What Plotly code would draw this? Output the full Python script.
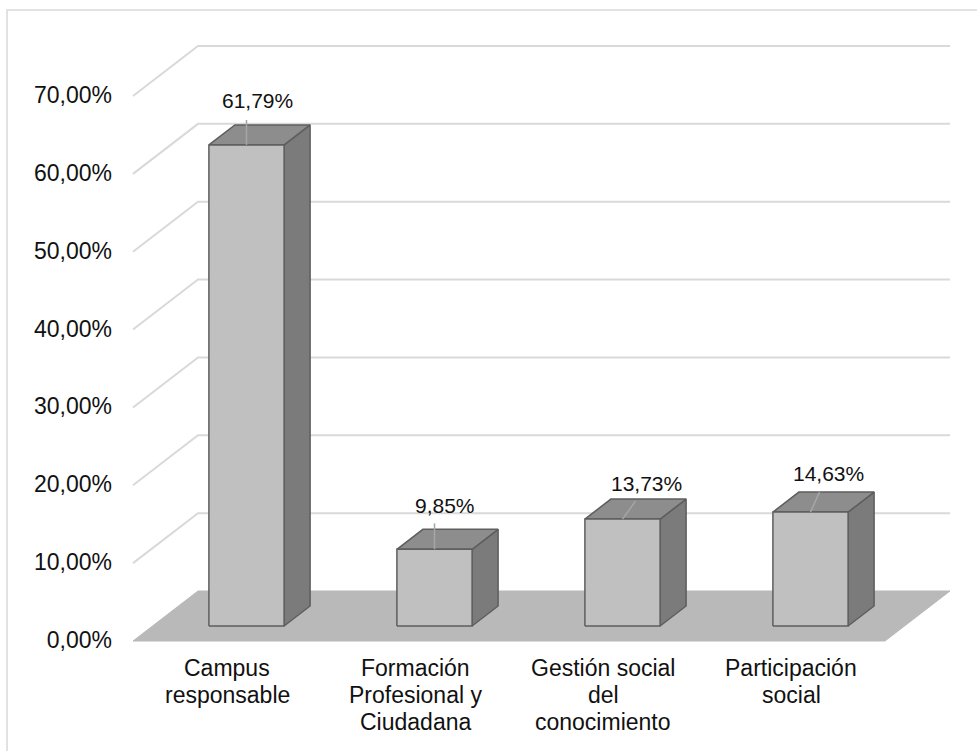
import plotly.graph_objects as go

# ---- data ----
categories = ["Campus<br>responsable", "Formación<br>Profesional y<br>Ciudadana",
              "Gestión social<br>del<br>conocimiento", "Participación<br>social"]
values = [61.79, 9.85, 13.73, 14.63]
y_ticks = [0, 10, 20, 30, 40, 50, 60, 70]
y_tick_labels = ["0,00%", "10,00%", "20,00%", "30,00%", "40,00%", "50,00%", "60,00%", "70,00%"]
value_labels = ["61,79%", "9,85%", "13,73%", "14,63%"]

# ---- style / geometry ----
W_FIG, H_FIG = 977, 751
PX_X = 188.0          # px per category
PX_Y = 7.786          # px per percent
DEPTH_PX_X, DEPTH_PX_Y = 65.0, 50.0
DX = DEPTH_PX_X / PX_X
DY = DEPTH_PX_Y / PX_Y
BAR_W = 0.4
D0, D1 = 0.3, 0.7
ML, MR, MT, MB = 114, 9, 38, 102
FRONT_LEFT_PX = 133
FLOOR_FRONT_PX = 641
# label centre offsets and leader-line end offsets, in px (right, down)
label_offsets = [(11, -44), (10, -44), (24, -36), (18, -39)]
leader_offsets = [(0, -25), (0, -26), (13, -18), (9, -20)]

PW = W_FIG - ML - MR
PH = H_FIG - MT - MB
xmin = -0.5 - (FRONT_LEFT_PX - ML) / PX_X
xmax = xmin + PW / PX_X
ymin = -((H_FIG - MB) - FLOOR_FRONT_PX) / PX_Y
ymax = ymin + PH / PX_Y

FRONT = "#c0c0c0"
SIDE = "#7b7b7b"
TOP = "#8d8d8d"
EDGE = "#5e5e5e"
FLOOR = "#b9b9b9"
GRID = "#d9d9d9"
LEADER = "#a6a6a6"
FONT = "Liberation Sans, Arial, sans-serif"
TXT = "#111111"


def P(x, v, d):
    return x + d * DX, v + d * DY


def poly(pts, fill, line_color, lw):
    xs = [p[0] for p in pts] + [pts[0][0]]
    ys = [p[1] for p in pts] + [pts[0][1]]
    return go.Scatter(x=xs, y=ys, mode="lines", fill="toself", fillcolor=fill,
                      line=dict(color=line_color, width=lw), hoverinfo="skip",
                      showlegend=False)


fig = go.Figure()

n = len(values)
left = -0.5
right = n - 0.5

# gridlines (side wall + back wall)
for t in y_ticks[1:]:
    a = P(left, t, 0)
    b = P(left, t, 1)
    c = P(right, t, 1)
    fig.add_trace(go.Scatter(x=[a[0], b[0], c[0]], y=[a[1], b[1], c[1]], mode="lines",
                             line=dict(color=GRID, width=2), hoverinfo="skip",
                             showlegend=False))

# floor
fig.add_trace(poly([P(left, 0, 0), P(right, 0, 0), P(right, 0, 1), P(left, 0, 1)],
                   FLOOR, FLOOR, 1))

# bars
for i, v in enumerate(values):
    x0, x1 = i - BAR_W / 2, i + BAR_W / 2
    fig.add_trace(poly([P(x1, 0, D0), P(x1, 0, D1), P(x1, v, D1), P(x1, v, D0)], SIDE, EDGE, 1.5))
    fig.add_trace(poly([P(x0, v, D0), P(x1, v, D0), P(x1, v, D1), P(x0, v, D1)], TOP, EDGE, 1.5))
    fig.add_trace(poly([P(x0, 0, D0), P(x1, 0, D0), P(x1, v, D0), P(x0, v, D0)], FRONT, EDGE, 1.5))

annotations = []
# value labels with leader lines
for i, (v, lab) in enumerate(zip(values, value_labels)):
    px, py = P(i, v, D0)
    lx, ly = leader_offsets[i]
    fig.add_trace(go.Scatter(x=[px, px + lx / PX_X], y=[py, py - ly / PX_Y], mode="lines",
                             line=dict(color=LEADER, width=1.5), hoverinfo="skip",
                             showlegend=False))
    ox, oy = label_offsets[i]
    annotations.append(dict(x=px, y=py, xref="x", yref="y", text=lab, showarrow=False,
                            xshift=ox, yshift=-oy,
                            font=dict(family=FONT, size=21, color=TXT)))

# category labels (one annotation per line for Excel-like line spacing)
for i, cat in enumerate(categories):
    for k, line in enumerate(cat.split("<br>")):
        annotations.append(dict(x=i, y=0, xref="x", yref="y", text=line, showarrow=False,
                                yanchor="middle", yshift=-(27 + 27 * k),
                                font=dict(family=FONT, size=23, color=TXT)))

# chart border
bx0 = (7 - ML) / PW
by1 = 1 + (MT - 10) / PH
shapes = [dict(type="rect", xref="paper", yref="paper", x0=bx0, x1=1.2, y0=-0.5, y1=by1,
               line=dict(color="#d9d9d9", width=1.5), fillcolor="rgba(0,0,0,0)", layer="below")]

fig.update_layout(
    width=W_FIG, height=H_FIG, autosize=False,
    margin=dict(l=ML, r=MR, t=MT, b=MB, pad=0),
    paper_bgcolor="white", plot_bgcolor="white",
    showlegend=False,
    xaxis=dict(range=[xmin, xmax], showgrid=False, zeroline=False, showticklabels=False,
               showline=False, fixedrange=True),
    yaxis=dict(range=[ymin, ymax], showgrid=False, zeroline=False, showline=False,
               tickmode="array", tickvals=y_ticks, ticktext=y_tick_labels,
               ticks="", ticklabelstandoff=1, ticklabelshift=-1,
               tickfont=dict(family=FONT, size=23, color=TXT), fixedrange=True),
    annotations=annotations,
    shapes=shapes,
)

fig.write_html("out.html", config={"displayModeBar": False},
               post_script="document.body.style.margin='0';document.body.style.overflow='hidden';")
